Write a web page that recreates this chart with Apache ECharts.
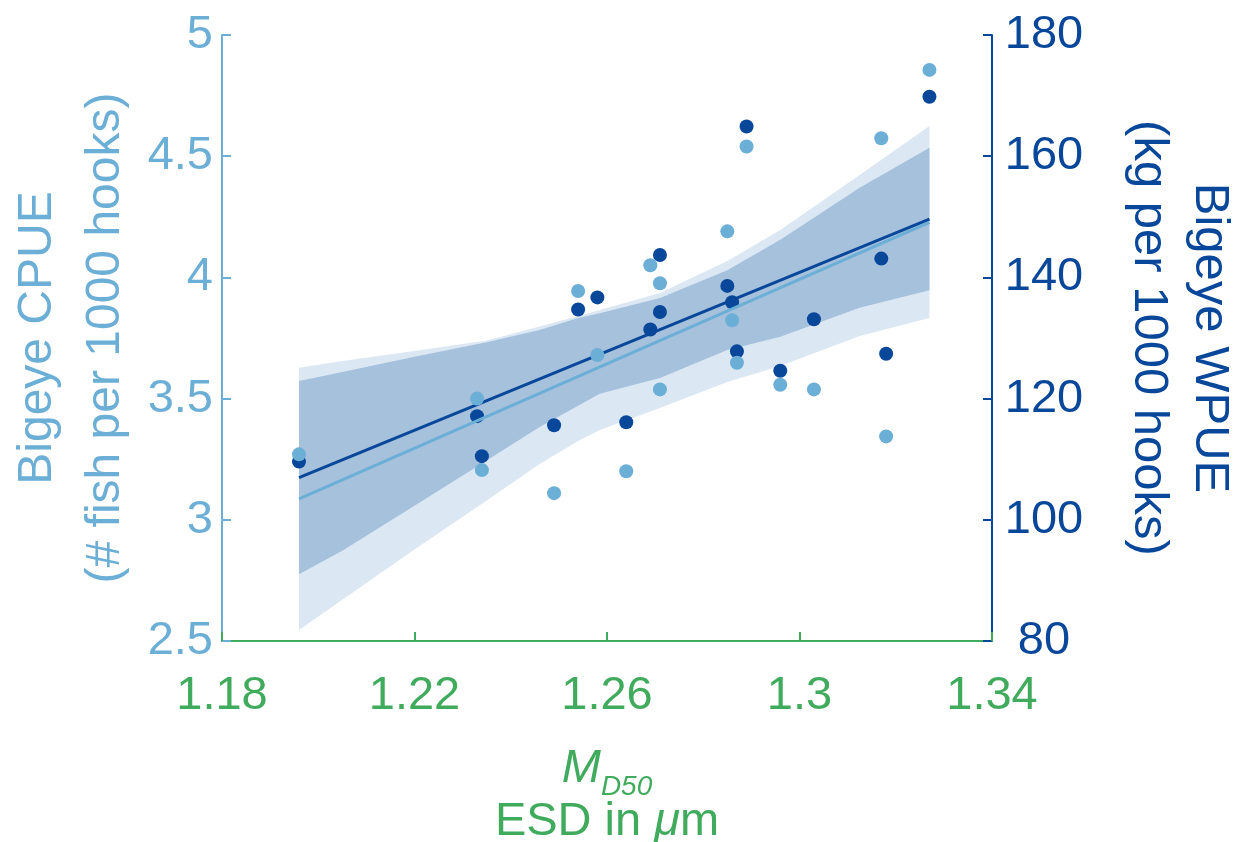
<!DOCTYPE html>
<html>
<head>
<meta charset="utf-8">
<title>Bigeye CPUE / WPUE vs M_D50</title>
<script src="https://cdn.jsdelivr.net/npm/echarts@6/dist/echarts.min.js"></script>
<style>
  html, body { margin: 0; padding: 0; background: #fff; }
  #chart { width: 1235px; height: 842px; }
</style>
</head>
<body>
<div id="chart"></div>
<script>
  // station values, x shared by both series
  var esdX = [1.196, 1.233, 1.234, 1.249, 1.254, 1.258, 1.264, 1.269, 1.271, 1.271,
              1.285, 1.286, 1.287, 1.289, 1.296, 1.303, 1.317, 1.318, 1.327];
  var cpue = [3.27, 3.50, 3.205, 3.11, 3.944, 3.68, 3.20, 4.05, 3.976, 3.538,
              4.19, 3.823, 3.648, 4.54, 3.557, 3.538, 4.574, 3.344, 4.856];
  var wpue = [109.6, 117.1, 110.5, 115.6, 134.7, 136.7, 116.1, 131.4, 143.7, 134.3,
              138.6, 135.9, 127.8, 164.9, 124.6, 133.1, 143.1, 127.4, 169.8];

  // fitted lines (end points)
  var fitX = [1.196, 1.327];
  var cpueFit = [3.086, 4.227];
  var wpueFit = [106.95, 149.6];

  // confidence bands
  var bandX = [1.196, 1.205, 1.22, 1.235, 1.246, 1.254, 1.2585, 1.271, 1.285, 1.296, 1.3125, 1.327];
  var cpueUpper = [3.627, 3.655, 3.696, 3.740, 3.797, 3.841, 3.866, 3.936, 4.068, 4.196, 4.422, 4.625];
  var cpueLower = [2.545, 2.670, 2.877, 3.080, 3.230, 3.325, 3.370, 3.461, 3.568, 3.634, 3.758, 3.833];
  var wpueUpper = [122.9, 124.4, 126.9, 129.3, 131.3, 133.3, 134.1, 136.6, 141.2, 146.2, 154.8, 161.4];
  var wpueLower = [91.0, 94.9, 102.3, 109.8, 115.3, 118.8, 120.8, 123.4, 128.0, 130.2, 135.0, 137.9];

  var xTicks = [1.18, 1.34, 0.04];
  var cpueTicks = [2.5, 5, 0.5];
  var wpueTicks = [80, 180, 20];

  var lightBlue = '#6baed6';
  var darkBlue = '#08479a';
  var green = '#41ab5d';
  var font = 'Liberation Sans, Arial, Helvetica, sans-serif';

  function pairs(xs, ys) {
    return xs.map(function (x, i) { return [x, ys[i]]; });
  }

  function band(yIdx, upper, lower, color, z) {
    return {
      type: 'custom',
      yAxisIndex: yIdx,
      z: z,
      silent: true,
      data: [[bandX[0], upper[0]]],
      renderItem: function (params, api) {
        var pts = [];
        for (var i = 0; i < bandX.length; i++) {
          pts.push(api.coord([bandX[i], upper[i]]));
        }
        for (var j = bandX.length - 1; j >= 0; j--) {
          pts.push(api.coord([bandX[j], lower[j]]));
        }
        return { type: 'polygon', shape: { points: pts }, style: { fill: color } };
      }
    };
  }

  var myChart = echarts.init(document.getElementById('chart'));
  var option = {
    animation: false,
    textStyle: { fontFamily: font },
    grid: { left: 222, right: 243, top: 35, bottom: 201, outerBoundsMode: 'none' },
    xAxis: {
      type: 'value',
      min: xTicks[0], max: xTicks[1], interval: xTicks[2],
      name: '{m|M}{sub|D50}\n{t|ESD in }{mu|\u03bc}{t|m}',
      nameLocation: 'middle',
      nameGap: 104,
      nameMoveOverlap: false,
      nameTextStyle: {
        color: green,
        rich: {
          m: { fontStyle: 'italic', fontSize: 47, color: green, padding: [0, 0, 9, 0], verticalAlign: 'bottom' },
          sub: { fontStyle: 'italic', fontSize: 28, color: green, verticalAlign: 'bottom' },
          t: { fontSize: 47, color: green, lineHeight: 42 },
          mu: { fontStyle: 'italic', fontSize: 47, color: green, lineHeight: 42 }
        }
      },
      axisLine: { lineStyle: { color: green, width: 2 } },
      axisTick: { inside: true, length: 9, lineStyle: { color: green, width: 2 } },
      axisLabel: {
        color: green, fontSize: 47, margin: 32,
        formatter: function (v) { return String(+v.toFixed(2)); }
      },
      splitLine: { show: false }
    },
    yAxis: [
      {
        type: 'value',
        position: 'left',
        min: cpueTicks[0], max: cpueTicks[1], interval: cpueTicks[2],
        name: 'Bigeye CPUE\n(# fish per 1000 hooks)',
        nameLocation: 'middle',
        nameRotate: 90,
        nameGap: 82,
        nameMoveOverlap: false,
        nameTextStyle: { color: lightBlue, fontSize: 48, lineHeight: 68 },
        axisLine: { show: true, lineStyle: { color: lightBlue, width: 2 } },
        axisTick: { show: true, inside: true, length: 9, lineStyle: { color: lightBlue, width: 2 } },
        axisLabel: { color: lightBlue, fontSize: 47, margin: 9 },
        splitLine: { show: false }
      },
      {
        type: 'value',
        position: 'right',
        min: wpueTicks[0], max: wpueTicks[1], interval: wpueTicks[2],
        name: 'Bigeye WPUE\n(kg per 1000 hooks)',
        nameLocation: 'middle',
        nameRotate: -90,
        nameGap: 126,
        nameMoveOverlap: false,
        nameTextStyle: { color: darkBlue, fontSize: 49, lineHeight: 61 },
        axisLine: { show: true, lineStyle: { color: darkBlue, width: 2 } },
        axisTick: { show: true, inside: true, length: 9, lineStyle: { color: darkBlue, width: 2 } },
        axisLabel: { color: darkBlue, fontSize: 47, margin: 52, align: 'center' },
        splitLine: { show: false }
      }
    ],
    series: [
      band(0, cpueUpper, cpueLower, '#dbe8f4', 1),
      band(1, wpueUpper, wpueLower, '#a6c1dc', 2),
      {
        type: 'line', yAxisIndex: 1, z: 3, silent: true,
        showSymbol: false,
        lineStyle: { color: darkBlue, width: 3 },
        data: pairs(fitX, wpueFit)
      },
      {
        type: 'scatter', yAxisIndex: 1, z: 4,
        symbolSize: 14,
        itemStyle: { color: darkBlue, opacity: 1 },
        data: pairs(esdX, wpue)
      },
      {
        type: 'line', yAxisIndex: 0, z: 5, silent: true,
        showSymbol: false,
        lineStyle: { color: lightBlue, width: 3 },
        data: pairs(fitX, cpueFit)
      },
      {
        type: 'scatter', yAxisIndex: 0, z: 6,
        symbolSize: 14,
        itemStyle: { color: lightBlue, opacity: 1 },
        data: pairs(esdX, cpue)
      }
    ]
  };
  myChart.setOption(option, true);
</script>
</body>
</html>
